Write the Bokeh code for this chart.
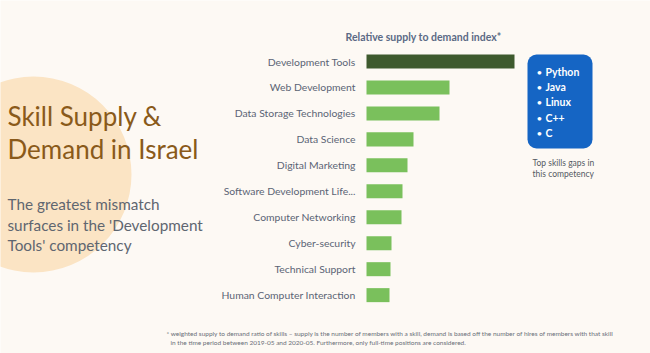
from bokeh.plotting import figure
from bokeh.models import Range1d, BoxAnnotation, ColumnDataSource
from bokeh.core.properties import value
from bokeh.embed import file_html
from bokeh.resources import INLINE

# ---- data ----
categories = ["Development Tools", "Web Development", "Data Storage Technologies",
              "Data Science", "Digital Marketing", "Software Development Life...",
              "Computer Networking", "Cyber-security", "Technical Support",
              "Human Computer Interaction"]
index_values = [14.8, 8.3, 7.3, 4.7, 4.1, 3.6, 3.5, 2.5, 2.4, 2.3]
top_skills = ["Python", "Java", "Linux", "C++", "C"]

title_lines = ["Skill Supply &", "Demand in Israel"]
subtitle_lines = ["The greatest mismatch", "surfaces in the 'Development", "Tools' competency"]
chart_title = "Relative supply to demand index*"
caption_lines = ["Top skills gaps in", "this competency"]
footnote_lines = [
    "* weighted supply to demand ratio of skills \u2013 supply is the number of members with a skill, demand is based off the number of hires of members with that skill",
    "in the time period between 2019-05 and 2020-05. Furthermore, only full-time positions are considered.",
]

# ---- styling / layout ----
W, H = 650, 353
BG = "#fdf9f4"
FONT = "Lato"
bar_left_px = 366
px_per_unit = 10.0
first_row_px = 61
row_px = 25.96

p = figure(width=W, height=H, output_backend="svg", toolbar_location=None,
           x_range=Range1d(0, W), y_range=Range1d(H, 0), min_border=0)
p.background_fill_color = BG
p.border_fill_color = BG
p.outline_line_color = None
p.xaxis.visible = False
p.yaxis.visible = False
p.xgrid.visible = False
p.ygrid.visible = False

# extra ranges for the bar chart: value axis and row-rank axis
p.extra_x_ranges = {"val": Range1d(-bar_left_px / px_per_unit, (W - bar_left_px) / px_per_unit)}
p.extra_y_ranges = {"rank": Range1d((H - first_row_px) / row_px, -first_row_px / row_px)}

# decorative circle
p.circle(x=[33], y=[174], radius=98, fill_color="#fbe4c4", line_color=None)

# left title
p.text(x=[7, 7], y=[115, 148], text=title_lines, text_font=value(FONT),
       text_font_size="26px", text_color="#8a5a1a", text_baseline="middle")
p.text(x=[7, 7, 7], y=[203, 224, 244], text=subtitle_lines, text_font=value(FONT),
       text_font_size="15.3px", text_color="#5f6670", text_baseline="middle")

# bars
src = ColumnDataSource(dict(cat=categories, rank=list(range(len(categories))), val=index_values,
                            color=["#3e5a2e"] + ["#7ac05c"] * (len(categories) - 1)))
p.hbar(y="rank", right="val", left=0, height=0.54, fill_color="color", line_color=None,
       source=src, x_range_name="val", y_range_name="rank")
p.text(x=0, y="rank", text="cat", source=src, x_offset=-11, text_align="right",
       text_baseline="middle", text_font=value(FONT), text_font_size="10.4px",
       text_color="#5b6475", x_range_name="val", y_range_name="rank")

# chart title
p.text(x=[423], y=[36], text=[chart_title], text_font=value(FONT), text_font_size="10.5px",
       text_font_style="bold", text_color="#5b6a85", text_align="center", text_baseline="middle")

# blue box
p.add_layout(BoxAnnotation(left=527, right=592, top=54, bottom=148, fill_color="#1565c4",
                           fill_alpha=1, line_color=None, border_radius=9, level="underlay"))
ys = [71, 86, 101.5, 117, 132]
p.text(x=[536] * len(top_skills), y=ys, text=["\u2022"] * len(top_skills), text_font=value(FONT),
       text_font_size="10px", text_color="white", text_baseline="middle")
p.text(x=[545] * len(top_skills), y=ys, text=top_skills, text_font=value(FONT),
       text_font_size="10.5px", text_font_style="bold", text_color="white", text_baseline="middle")
p.text(x=[532, 532], y=[162, 173], text=caption_lines, text_font=value(FONT),
       text_font_size="8.5px", text_color="#555a63", text_baseline="middle")

# footnote
p.text(x=[166, 170], y=[333, 342], text=footnote_lines, text_font=value(FONT),
       text_font_size="6.5px", text_color="#6a6f78", text_baseline="middle")

open("out.html", "w").write(file_html(p, INLINE))
